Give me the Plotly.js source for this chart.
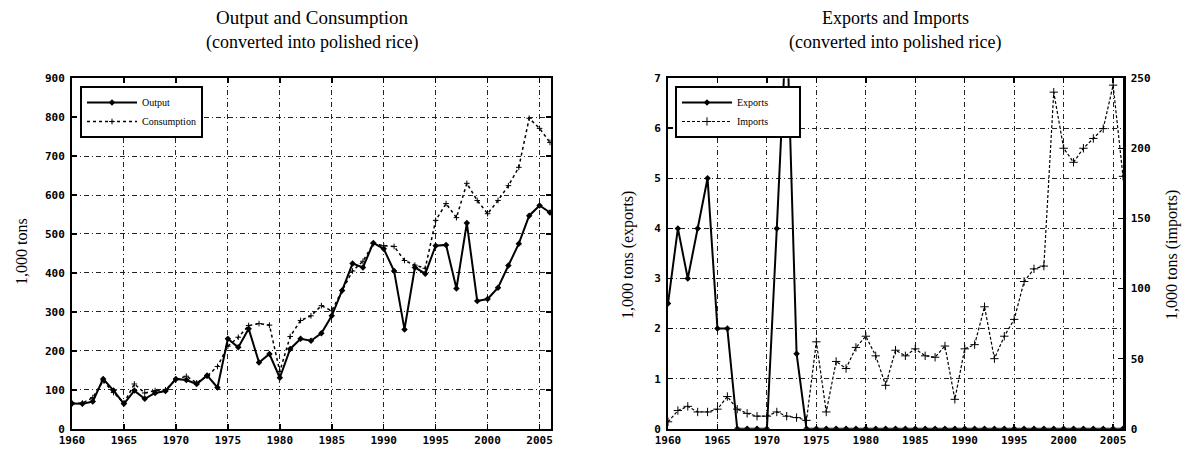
<!DOCTYPE html>
<html><head><meta charset="utf-8">
<script src="https://cdn.plot.ly/plotly-3.0.1.min.js"></script>
<style>body{margin:0;background:#fff}#c{width:1187px;height:449px}</style>
</head><body><div id="c"></div>
<script>
const years = [1960,1961,1962,1963,1964,1965,1966,1967,1968,1969,
  1970,1971,1972,1973,1974,1975,1976,1977,1978,1979,
  1980,1981,1982,1983,1984,1985,1986,1987,1988,1989,
  1990,1991,1992,1993,1994,1995,1996,1997,1998,1999,
  2000,2001,2002,2003,2004,2005,2006];
const output = [65,64,70,128,98,64,98,77,92,97,
  128,125,115,137,106,231,209,257,170,192,
  131,205,231,226,245,290,355,424,414,477,
  462,405,255,414,398,470,472,360,528,328,
  333,362,419,475,547,573,555];
const consumption = [65,66,80,123,93,66,115,92,98,100,
  126,135,118,135,160,212,235,265,270,266,
  147,237,278,290,316,303,355,405,430,475,
  470,468,432,420,412,535,578,542,630,586,
  552,586,624,671,797,771,735];
const exportsK = [2.5,4,3,4,5,2,2,0,0,0,
  0,4,8.2,1.5,0,0,0,0,0,0,
  0,0,0,0,0,0,0,0,0,0,
  0,0,0,0,0,0,0,0,0,0,
  0,0,0,0,0,0,0];
const importsK = [5,13,16,12,12,14,23,14,11,9,
  9,12,9,8,6,62,12,48,43,58,
  66,52,31,56,52,57,52,51,59,21,
  57,60,87,50,66,78,105,114,116,240,
  200,190,200,207,214,245,180];
const xTicks = [1960,1965,1970,1975,1980,1985,1990,1995,2000,2005];
const xTickText = ['1960','1965','1970','1975','1980','1985','1990','1995','2000','2005'];

const tickFont = {family:'DejaVu Sans Mono', size:11, color:'#000', weight:700};
const serif = 'Liberation Serif';
const gridDash = '5px,3px,1px,3px';

function xAxis(domain, range, anchor){
  return {domain, range, anchor, tickvals:xTicks, ticktext:xTickText, ticks:'inside', ticklen:5,
    tickwidth:1.5, tickcolor:'#000', showline:true, linewidth:2, linecolor:'#000', mirror:'ticks',
    showgrid:true, gridcolor:'#222', gridwidth:1, griddash:gridDash, zeroline:false,
    tickfont:tickFont, fixedrange:true};
}
function yAxis(domain, range, dtick, anchor, extra){
  return Object.assign({domain, range, anchor, dtick, ticks:'inside', ticklen:5, tickwidth:1.5,
    tickcolor:'#000', showline:true, linewidth:2, linecolor:'#000', mirror:'ticks',
    showgrid:true, gridcolor:'#222', gridwidth:1, griddash:gridDash, zeroline:false, ticklabelstandoff:3,
    tickfont:tickFont, fixedrange:true}, extra||{});
}

const traces = [
  {x:years, y:output, name:'Output', type:'scatter', mode:'lines+markers', xaxis:'x', yaxis:'y',
   line:{color:'#000', width:2}, marker:{symbol:'diamond', size:5, color:'#000'}, legend:'legend'},
  {x:years, y:consumption, name:'Consumption', type:'scatter', mode:'lines+markers', xaxis:'x', yaxis:'y',
   line:{color:'#000', width:1.5, dash:'dot'}, marker:{symbol:'cross-thin-open', size:4, line:{color:'#000', width:1}}, legend:'legend'},
  {x:years, y:exportsK, name:'Exports\u00a0\u00a0\u00a0\u00a0\u00a0\u00a0\u00a0\u00a0\u00a0\u00a0', type:'scatter', mode:'lines+markers', xaxis:'x2', yaxis:'y2',
   line:{color:'#000', width:2}, marker:{symbol:'diamond', size:5, color:'#000'}, legend:'legend2'},
  {x:years, y:importsK, name:'Imports', type:'scatter', mode:'lines+markers', xaxis:'x2', yaxis:'y3',
   line:{color:'#000', width:1.2, dash:'3px,2px'}, marker:{symbol:'cross-thin-open', size:6, line:{color:'#000', width:1}}, legend:'legend2'}
];

const yDom = [0.045, 0.826];
const legendBase = {xanchor:'left', yanchor:'top', bgcolor:'#fff', bordercolor:'#000', borderwidth:2,
    font:{family:serif, size:10, color:'#000'}, tracegroupgap:0, itemwidth:50};
const layout = {
  width:1187, height:449, margin:{l:0,r:0,t:0,b:0}, paper_bgcolor:'#fff', plot_bgcolor:'#fff',
  showlegend:true,
  xaxis: xAxis([72/1187, 551/1187], [1960, 2006.1], 'y'),
  yaxis: yAxis(yDom, [0, 900], 100, 'x'),
  xaxis2: xAxis([668/1187, 1123/1187], [1960, 2006], 'y2'),
  yaxis2: yAxis(yDom, [0, 7], 1, 'x2', {mirror:false}),
  yaxis3: yAxis(yDom, [0, 250], 50, 'x2', {overlaying:'y2', side:'right', showgrid:false, mirror:false, linewidth:2.5}),
  legend: Object.assign({x:80/1187, y:(449-86)/449}, legendBase),
  legend2: Object.assign({x:675/1187, y:(449-86)/449}, legendBase),
  annotations: [
    {text:'Output and Consumption', xref:'paper', yref:'paper', x:312/1187, y:1-18/449, xanchor:'center', yanchor:'middle', showarrow:false, font:{family:serif, size:19, color:'#000'}},
    {text:'(converted into polished rice)', xref:'paper', yref:'paper', x:312/1187, y:1-42/449, xanchor:'center', yanchor:'middle', showarrow:false, font:{family:serif, size:18, color:'#000'}},
    {text:'Exports and Imports', xref:'paper', yref:'paper', x:895/1187, y:1-18/449, xanchor:'center', yanchor:'middle', showarrow:false, font:{family:serif, size:18, color:'#000'}},
    {text:'(converted into polished rice)', xref:'paper', yref:'paper', x:895/1187, y:1-42/449, xanchor:'center', yanchor:'middle', showarrow:false, font:{family:serif, size:18, color:'#000'}},
    {text:'1,000 tons', xref:'paper', yref:'paper', x:21/1187, y:1-252/449, xanchor:'center', yanchor:'middle', textangle:-90, showarrow:false, font:{family:serif, size:16, color:'#000'}},
    {text:'1,000 tons (exports)', xref:'paper', yref:'paper', x:628/1187, y:1-255/449, xanchor:'center', yanchor:'middle', textangle:-90, showarrow:false, font:{family:serif, size:16, color:'#000'}},
    {text:'1,000 tons (imports)', xref:'paper', yref:'paper', x:1172/1187, y:1-255/449, xanchor:'center', yanchor:'middle', textangle:-90, showarrow:false, font:{family:serif, size:16, color:'#000'}}
  ]
};
Plotly.newPlot('c', traces, layout, {displayModeBar:false, staticPlot:true});
</script></body></html>
